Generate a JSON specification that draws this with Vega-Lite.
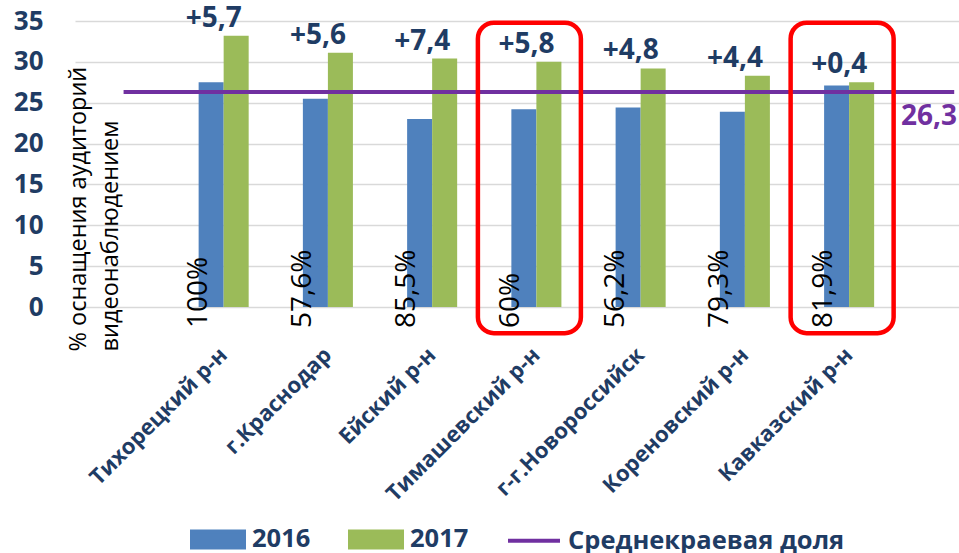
{
  "$schema": "https://vega.github.io/schema/vega-lite/v6.json",
  "width": 884,
  "height": 286,
  "autosize": {"type": "none"},
  "padding": {"left": 75, "top": 21, "right": 0, "bottom": 246},
  "background": "white",
  "config": {"view": {"stroke": null}, "font": "Open Sans"},
  "datasets": {
    "regions": [
      {"region": "Тихорецкий р-н", "2016": 27.5, "2017": 33.2, "change": "+5,7", "equip": "100%", "highlight": false},
      {"region": "г.Краснодар", "2016": 25.5, "2017": 31.1, "change": "+5,6", "equip": "57,6%", "highlight": false},
      {"region": "Ейский р-н", "2016": 23.0, "2017": 30.4, "change": "+7,4", "equip": "85,5%", "highlight": false},
      {"region": "Тимашевский р-н", "2016": 24.2, "2017": 30.0, "change": "+5,8", "equip": "60%", "highlight": true},
      {"region": "г-г.Новороссийск", "2016": 24.4, "2017": 29.2, "change": "+4,8", "equip": "56,2%", "highlight": false},
      {"region": "Кореновский р-н", "2016": 23.9, "2017": 28.3, "change": "+4,4", "equip": "79,3%", "highlight": false},
      {"region": "Кавказский р-н", "2016": 27.1, "2017": 27.5, "change": "+0,4", "equip": "81,9%", "highlight": true}
    ],
    "average": [
      {"series": "Среднекраевая доля", "value": 26.3, "label": "26,3"}
    ]
  },
  "layer": [
    {
      "data": {"name": "regions"},
      "transform": [{"fold": ["2016", "2017"], "as": ["year", "value"]}],
      "mark": {"type": "bar"},
      "encoding": {
        "x": {
          "field": "region", "type": "nominal",
          "scale": {
            "domain": ["Тихорецкий р-н", "г.Краснодар", "Ейский р-н", "Тимашевский р-н", "г-г.Новороссийск", "Кореновский р-н", "Кавказский р-н"],
            "paddingInner": 0.52, "paddingOuter": 1.064, "align": 0.593
          },
          "axis": {
            "title": null, "domain": false, "ticks": false, "tickSize": 0, "grid": false,
            "labelAngle": -45, "labelAlign": "right", "labelBaseline": "middle", "labelLimit": 0,
            "labelFont": "Open Sans", "labelFontWeight": "bold", "labelFontSize": 22,
            "labelColor": "#1F3C64", "labelPadding": 44
          }
        },
        "xOffset": {"field": "year", "type": "nominal", "scale": {"paddingInner": 0, "paddingOuter": 0}},
        "y": {
          "field": "value", "type": "quantitative",
          "scale": {"domain": [0, 35], "nice": false},
          "axis": {
            "values": [0, 5, 10, 15, 20, 25, 30, 35],
            "grid": true, "gridColor": "#D9D9D9", "gridWidth": 1.5,
            "domain": false, "ticks": false, "tickSize": 0,
            "labelFont": "Open Sans", "labelFontWeight": "bold", "labelFontSize": 26,
            "labelColor": "#1F3C64", "labelPadding": 32,
            "title": ["% оснащения аудиторий", "видеонаблюдением"],
            "titleFont": "Open Sans", "titleFontWeight": "normal", "titleFontSize": 23.5,
            "titleColor": "black", "titleAngle": 270, "titleAlign": "left", "titleBaseline": "top",
            "titleX": -9, "titleY": 330, "titleLineHeight": 32, "titleLimit": 0
          }
        },
        "color": {
          "field": "year", "type": "nominal",
          "scale": {"domain": ["2016", "2017", "Среднекраевая доля"], "range": ["#4F81BD", "#9BBB59", "#7030A0"]},
          "legend": {
            "orient": "none", "legendX": 115, "legendY": 490, "direction": "horizontal", "title": null,
            "labelFont": "Open Sans", "labelFontWeight": "bold", "labelFontSize": 25.5, "labelColor": "#1F3C64",
            "labelLimit": 0, "labelOffset": 6, "columnPadding": 31, "symbolSize": 2704, "symbolStrokeWidth": 4,
            "symbolType": "M-1,-0.3077H1V0.3077H-1Z",
            "encode": {
              "symbols": {
                "update": {
                  "shape": {"signal": "datum.value === 'Среднекраевая доля' ? 'M-1,0H1' : 'M-1,-0.3077H1V0.3077H-1Z'"},
                  "fill": {"signal": "datum.value === '2016' ? '#4F81BD' : datum.value === '2017' ? '#9BBB59' : 'transparent'"},
                  "stroke": {"signal": "datum.value === 'Среднекраевая доля' ? '#7030A0' : 'transparent'"},
                  "strokeWidth": {"value": 4},
                  "opacity": {"value": 1},
                  "fillOpacity": {"value": 1}
                }
              }
            }
          }
        }
      }
    },
    {
      "data": {"name": "average"},
      "mark": {"type": "rule", "strokeWidth": 4},
      "encoding": {
        "x": {"datum": "Тихорецкий р-н", "bandPosition": -1.5},
        "x2": {"datum": "Кавказский р-н", "bandPosition": 2.6},
        "y": {"field": "value", "type": "quantitative"},
        "color": {"field": "series", "type": "nominal"}
      }
    },
    {
      "data": {"name": "average"},
      "mark": {"type": "text", "font": "Open Sans", "fontWeight": "bold", "fontSize": 28, "color": "#7030A0", "align": "right", "baseline": "alphabetic", "dx": -2, "dy": 33},
      "encoding": {
        "x": {"value": "width"},
        "y": {"field": "value", "type": "quantitative"},
        "text": {"field": "label"}
      }
    },
    {
      "data": {"name": "regions"},
      "transform": [{"filter": "datum.highlight"}],
      "mark": {"type": "bar", "fillOpacity": 0, "stroke": "#FF0000", "strokeWidth": 4.5, "cornerRadius": 16, "width": 103, "xOffset": -7},
      "encoding": {
        "x": {"field": "region", "type": "nominal"},
        "y": {"datum": 34.8},
        "y2": {"datum": -3.2}
      }
    },
    {
      "data": {"name": "regions"},
      "mark": {"type": "text", "font": "Open Sans", "fontWeight": "bold", "fontSize": 28, "color": "#1F3C64", "align": "center", "baseline": "alphabetic", "dx": -10, "dy": -9},
      "encoding": {
        "x": {"field": "region", "type": "nominal"},
        "y": {"field": "2017", "type": "quantitative"},
        "text": {"field": "change"}
      }
    },
    {
      "data": {"name": "regions"},
      "mark": {"type": "text", "font": "Open Sans", "fontSize": 28, "color": "black", "angle": 270, "align": "left", "baseline": "middle", "xOffset": -25, "yOffset": 21},
      "encoding": {
        "x": {"field": "region", "type": "nominal"},
        "y": {"datum": 0},
        "text": {"field": "equip"}
      }
    }
  ]
}
